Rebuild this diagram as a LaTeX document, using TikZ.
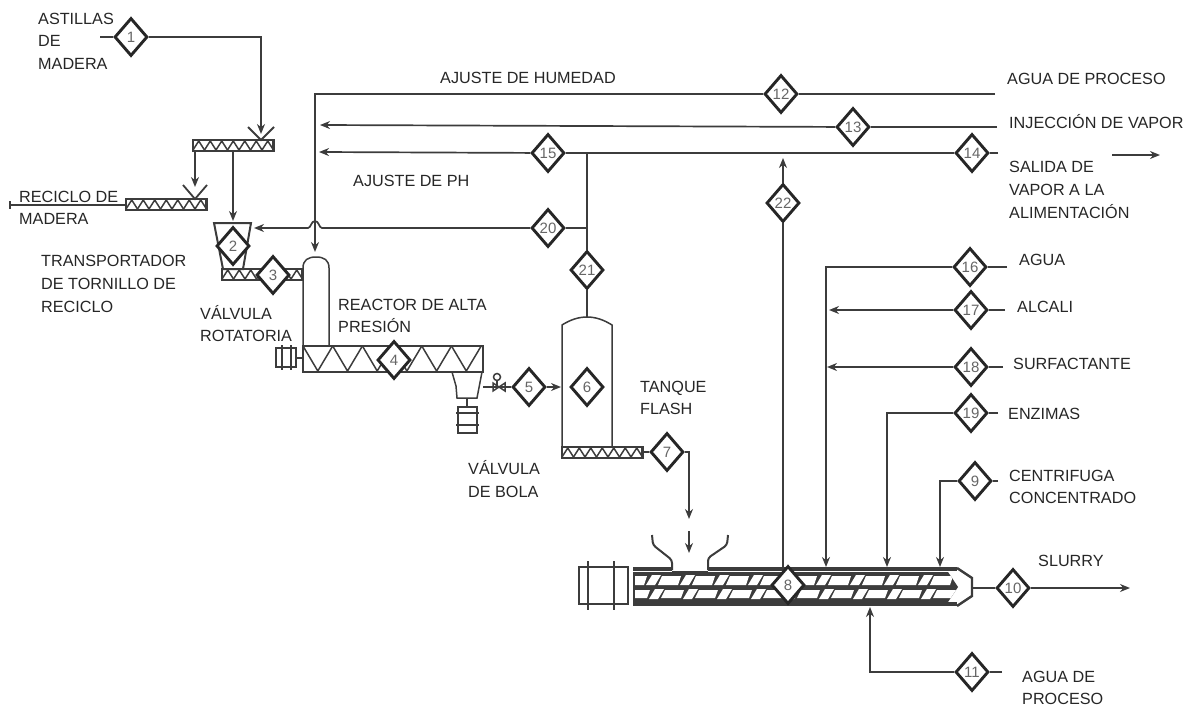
\documentclass[tikz,border=0pt]{standalone}
\usepackage{fontspec}
\usepackage{xcolor}
\setmainfont{Liberation Sans}
\usetikzlibrary{arrows.meta,shapes.geometric}
\definecolor{trazo}{HTML}{3C3C3C}
\tikzset{
  linea/.style={draw=trazo,line width=1.7pt},
  flecha/.style={linea,-{Stealth[length=10pt,width=8pt]}},
  equipo/.style={draw=trazo,line width=1.5pt},
  etiqueta/.style={anchor=west,inner sep=0pt,align=left,text=black!85,font=\fontsize{16.2}{22.6}\selectfont},
  rombo/.style={shape=diamond,draw=black!85,line width=2.9pt,fill=white,inner sep=0pt,
    minimum width=33pt,minimum height=38pt,text=black!60,font=\fontsize{15}{15}\selectfont}
}
% banda de tornillo pequena
\newcommand{\banda}[2]{
  \draw[equipo,line width=2.2pt] (#1,#2) rectangle (#1+80.5,#2+11);
  \foreach \i in {0,...,6}
    \draw[equipo] (#1+11.5*\i,#2+10) -- (#1+5.75+11.5*\i,#2+1) -- (#1+11.5+11.5*\i,#2+10);
}
\begin{document}
\begin{tikzpicture}[x=1pt,y=-1pt]
  \useasboundingbox (0,0) rectangle (1187,709);
  % Bandas
  \banda{193}{140}
  \banda{126}{199}
  \banda{222}{269}
  \banda{562}{447}
  % Embudos de las bandas
  \draw[equipo,line width=1.8pt] (248,127) -- (261,140) -- (274,127);
  \draw[equipo,line width=1.8pt] (183,185) -- (195,199) -- (207,185);
  % Tolva
  \draw[equipo,line width=2pt] (214,223) -- (251,223) -- (243,269) -- (223,269) -- cycle;
  % Reactor
  \draw[equipo] (303,346) -- (303,268) .. controls (303,260) and (308,257) .. (316,257)
       .. controls (324,257) and (329,260) .. (329,268) -- (329,346);
  \draw[equipo,line width=2pt] (303,346) rectangle (483,372);
  \foreach \i in {0,...,5}
    \draw[equipo] (303+29.7*\i,346) -- (317.8+29.7*\i,371) -- (332.7+29.7*\i,346);
  % Motor del reactor
  \draw[equipo] (276,348) rectangle (296,367);
  \draw[equipo] (282,345) -- (282,370);
  \draw[equipo] (291,345) -- (291,370);
  \draw[equipo] (296,358) -- (303,358);
  % Descarga y motor
  \draw[equipo] (452,372) -- (456,386) -- (457,398) -- (477,398) -- (482,372);
  \draw[equipo] (467,398) -- (467,407);
  \draw[equipo] (458,407) rectangle (477,433);
  \draw[equipo] (456,413) -- (479,413);
  \draw[equipo] (456,425) -- (479,425);
  % Valvula de bola
  \draw[equipo] (493,383) -- (505,391) -- (505,383) -- (493,391) -- cycle;
  \draw[equipo] (497,387) -- (497,381);
  \draw[equipo] (497,377) circle (3.5);
  % Tanque flash
  \draw[equipo] (562,447) -- (562,325) .. controls (570,320) and (578,317) .. (587,317)
       .. controls (596,317) and (604,320) .. (612,325) -- (612,447);
  % Extrusor: motor
  \draw[equipo] (579,567) rectangle (628,604);
  \draw[equipo] (588,561) -- (588,610);
  \draw[equipo] (614,561) -- (614,610);
  % Extrusor: tornillos
  \fill[trazo] (633,572) -- (948,572) -- (958,587) -- (948,602) -- (633,602) -- cycle;
  \begin{scope}
    \clip (635,572) -- (948,572) -- (958,587) -- (948,602) -- (635,602) -- cycle;
    \foreach \x in {618,652,686,720,754,788,822,856,890,924} {
      \fill[white] (\x-6,585) -- (\x+3,585) -- (\x+9,575) -- (\x,575) -- cycle;
      \fill[white] (\x+6,585) -- (\x+26,585) -- (\x+29,576) -- (\x+10,576) -- cycle;
      \fill[white] (\x-3,599) -- (\x+6,599) -- (\x+12,589) -- (\x+3,589) -- cycle;
      \fill[white] (\x+9,598) -- (\x+29,598) -- (\x+32,590) -- (\x+13,590) -- cycle;
    }
  \end{scope}
  % Extrusor: camisa
  \draw[trazo,line width=4pt] (633,569) -- (672,569);
  \draw[trazo,line width=4pt] (708,569) -- (957,569);
  \draw[trazo,line width=4pt] (633,604) -- (957,604);
  \draw[equipo] (672,572) -- (708,572);
  \draw[equipo,line width=2.4pt] (957,568) -- (972,578) -- (972,596) -- (957,606);
  % Embudo del extrusor
  \draw[equipo,line width=2pt,rounded corners=3pt] (652,535) -- (653,545) -- (672,560) -- (672,570);
  \draw[equipo,line width=2pt,rounded corners=3pt] (728,535) -- (727,545) -- (708,558) -- (708,570);
  % Rombos
  \foreach \n/\x/\y in {1/131/37,2/233/246,3/273/275,4/394/360,5/529/387,6/587/387,
       7/667/452,8/788/585,9/975/481,10/1013/588,11/972/672,12/781/94,13/853/127,
       14/972/153,15/548/153,16/970/267,17/971/310,18/971/367,19/971/413,20/548/228,
       21/587/270,22/783/203}
    \node[rombo] (d\n) at (\x,\y) {\n};
  % Puntos de las lineas
  \coordinate (aLeft) at (100,37);
  \coordinate (aBanda) at (261,134);
  \coordinate (bBanda) at (195,187);
  \coordinate (bSale) at (195,151);
  \coordinate (bTolva) at (233,221);
  \coordinate (bMedio) at (233,151);
  \coordinate (rLeft) at (10,205);
  \coordinate (rBanda) at (126,205);
  \coordinate (aReactor) at (315,252);
  \coordinate (eAgua) at (995,94);
  \coordinate (eVapor) at (997,127);
  \coordinate (fVapor) at (320,125);
  \coordinate (eSalida) at (998,153);
  \coordinate (fSalida) at (319,152);
  \coordinate (jSalida) at (587,153);
  \coordinate (jDos) at (587,228);
  \coordinate (fTolva) at (254,228);
  \coordinate (tTope) at (587,317);
  \coordinate (rSale) at (483,387);
  \coordinate (tEntra) at (561,387);
  \coordinate (bTanque) at (642,452);
  \coordinate (fUno) at (689,519);
  \coordinate (fDosA) at (689,531);
  \coordinate (fDosB) at (689,553);
  \coordinate (jVeinte) at (783,158);
  \coordinate (eOcho) at (783,569);
  \coordinate (eSeis) at (1007,267);
  \coordinate (eSiete) at (1005,310);
  \coordinate (eDieci) at (1003,367);
  \coordinate (eNueve) at (998,413);
  \coordinate (eNoven) at (998,481);
  \coordinate (fSeis) at (826,567);
  \coordinate (fSiete) at (829,310);
  \coordinate (fDieci) at (827,367);
  \coordinate (fNueve) at (887,567);
  \coordinate (fNoven) at (940,567);
  \coordinate (fOnce) at (870,607);
  \coordinate (eOnce) at (1002,672);
  \coordinate (eExt) at (972,588);
  \coordinate (fDiez) at (1130,588);
  \coordinate (sLeft) at (1112,155);
  \coordinate (sRight) at (1160,155);
  % Alimentacion de madera
  \draw[linea] (aLeft) -- (d1);
  \draw[flecha] (d1) -| (aBanda);
  \draw[flecha] (bSale) -- (bBanda);
  \draw[flecha] (bMedio) -- (bTolva);
  \draw[linea] (rLeft) -- (rBanda);
  \draw[linea] (10,201) -- (10,209);
  % Servicios superiores
  \draw[linea] (eAgua) -- (d12);
  \draw[flecha] (d12) -| (aReactor);
  \draw[linea] (eVapor) -- (d13);
  \draw[flecha] (d13) -- (fVapor);
  \draw[linea] (eSalida) -- (d14);
  \draw[linea] (d14) -- (jSalida) -- (d15);
  \draw[flecha] (d15) -- (fSalida);
  \draw[linea] (jSalida) -- (jDos) -- (d21);
  \draw[linea] (jDos) -- (d20);
  \draw[flecha] (d20) -- (322,228) .. controls (319,228) and (319,221) .. (315,221)
       .. controls (311,221) and (311,228) .. (308,228) -- (fTolva);
  \draw[linea] (d21) -- (tTope);
  \draw[linea] (eOcho) -- (d22);
  \draw[flecha] (d22) -- (jVeinte);
  % Reactor y tanque
  \draw[linea] (rSale) -- (d5);
  \draw[flecha] (d5) -- (tEntra);
  \draw[linea] (bTanque) -- (d7);
  \draw[flecha] (d7) -| (fUno);
  \draw[flecha] (fDosA) -- (fDosB);
  % Servicios del extrusor
  \draw[linea] (eSeis) -- (d16);
  \draw[flecha] (d16) -| (fSeis);
  \draw[linea] (eSiete) -- (d17);
  \draw[flecha] (d17) -- (fSiete);
  \draw[linea] (eDieci) -- (d18);
  \draw[flecha] (d18) -- (fDieci);
  \draw[linea] (eNueve) -- (d19);
  \draw[flecha] (d19) -| (fNueve);
  \draw[linea] (eNoven) -- (d9);
  \draw[flecha] (d9) -| (fNoven);
  \draw[linea] (eOnce) -- (d11);
  \draw[flecha] (d11) -| (fOnce);
  \draw[linea] (eExt) -- (d10);
  \draw[flecha] (d10) -- (fDiez);
  \draw[flecha] (sLeft) -- (sRight);
  % Textos
  \node[etiqueta] (tAstillas) at (38,41) {ASTILLAS\\DE\\MADERA};
  \node[etiqueta] (tReciclo) at (19,208) {RECICLO DE\\MADERA};
  \node[etiqueta] (tTornillo) at (41,284) {TRANSPORTADOR\\DE TORNILLO DE\\RECICLO};
  \node[etiqueta] (tRotatoria) at (200,323.5) {VÁLVULA\\ROTATORIA};
  \node[etiqueta] (tPresion) at (338,316) {REACTOR DE ALTA\\PRESIÓN};
  \node[etiqueta] (tFlash) at (640,398) {TANQUE\\FLASH};
  \node[etiqueta] (tBola) at (468,479) {VÁLVULA\\DE BOLA};
  \node[etiqueta] (tHumedad) at (440,78) {AJUSTE DE HUMEDAD};
  \node[etiqueta] (tPH) at (353,181) {AJUSTE DE PH};
  \node[etiqueta] (tAgua) at (1007,79) {AGUA DE PROCESO};
  \node[etiqueta] (tVapor) at (1009,122) {INJECCIÓN DE VAPOR};
  \node[etiqueta] (tSalida) at (1009,190) {SALIDA DE\\VAPOR A LA\\ALIMENTACIÓN};
  \node[etiqueta] (tAguaDos) at (1019,260) {AGUA};
  \node[etiqueta] (tAlcali) at (1017,307) {ALCALI};
  \node[etiqueta] (tSurf) at (1013,364) {SURFACTANTE};
  \node[etiqueta] (tEnzimas) at (1008,414) {ENZIMAS};
  \node[etiqueta] (tCentri) at (1009,487) {CENTRIFUGA\\CONCENTRADO};
  \node[etiqueta] (tSlurry) at (1038,561) {SLURRY};
  \node[etiqueta] (tAguaTres) at (1022,688) {AGUA DE\\PROCESO};
\end{tikzpicture}
\end{document}
